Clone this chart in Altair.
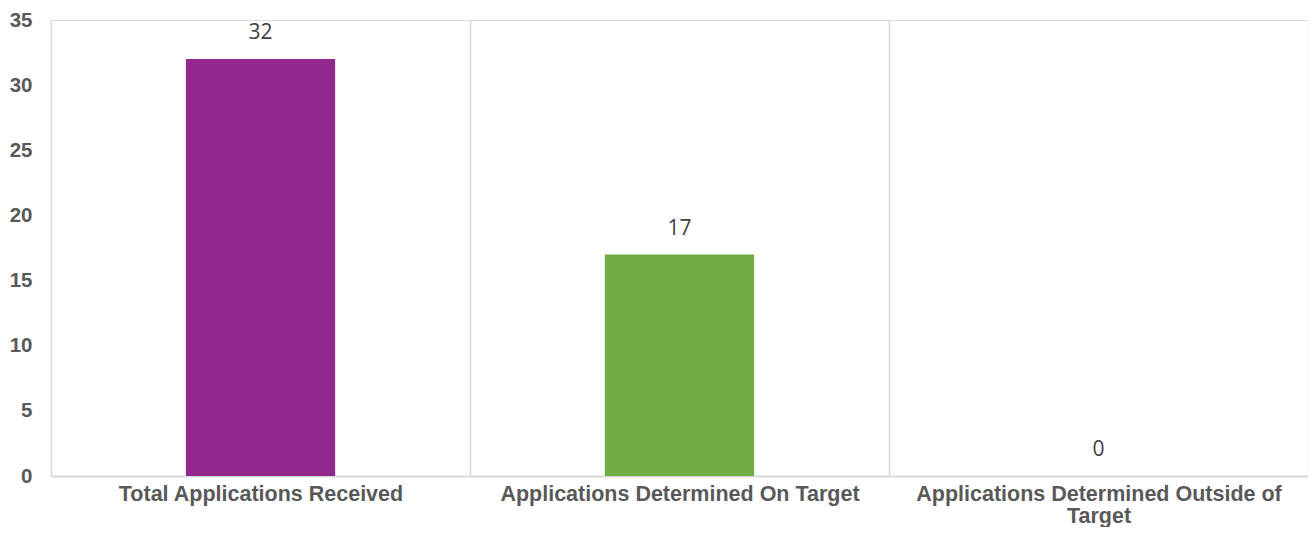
import altair as alt
import pandas as pd

categories = ["Total Applications Received",
              "Applications Determined On Target",
              "Applications Determined Outside of Target"]
values = [32, 17, 0]
colors = ["#92278F", "#70AD47", "#A5A5A5"]

df = pd.DataFrame({"category": categories, "value": values, "color": colors})

label_expr = ("datum.label == 'Applications Determined Outside of Target' ? "
              "['Applications Determined Outside of', 'Target'] : datum.label")

x_enc = alt.X("category:N", sort=categories, title=None,
              scale=alt.Scale(paddingInner=0, paddingOuter=0),
              axis=alt.Axis(labelAngle=0, labelFont="Liberation Sans", labelFontSize=21.5,
                            labelFontWeight="bold", labelColor="#595959", labelPadding=7,
                            labelLineHeight=22, labelExpr=label_expr, labelLimit=600,
                            ticks=False, grid=True, tickBand="extent", gridColor="#D9D9D9",
                            gridWidth=1.5, domainColor="#D9D9D9", domainWidth=2))
y_enc = alt.Y("value:Q", title=None,
              scale=alt.Scale(domain=[0, 35], nice=False),
              axis=alt.Axis(values=[0, 5, 10, 15, 20, 25, 30, 35], grid=False, ticks=False,
                            domain=False, labelFont="Liberation Sans", labelFontSize=20.5,
                            labelFontWeight="bold", labelColor="#595959", labelPadding=19))

base = alt.Chart(df).encode(x=x_enc, y=y_enc)

bars = base.mark_bar(width=alt.RelativeBandSize(150 / 421)).encode(
    color=alt.Color("color:N", scale=None, legend=None))
text = base.mark_text(dy=-26, font="Open Sans", fontSize=21, color="#404040").encode(
    text=alt.Text("value:Q"))

chart = (bars + text).properties(
    width=1257, height=456,
    autosize=alt.AutoSizeParams(type="none"),
    padding={"left": 43, "top": 12, "right": 0, "bottom": 51},
).configure_view(stroke=None).configure(background="white")

chart.save("out.html", embed_options={"renderer": "svg", "actions": False})
